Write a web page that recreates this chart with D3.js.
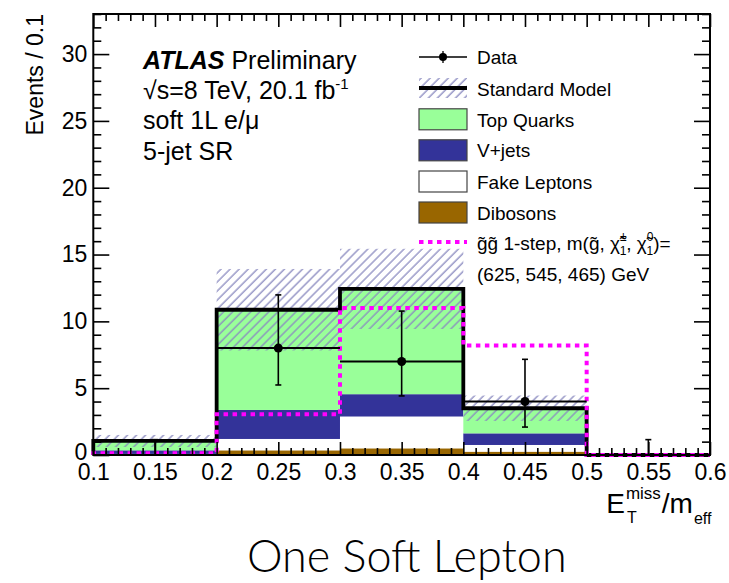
<!DOCTYPE html>
<html>
<head>
<meta charset="utf-8">
<script src="https://cdn.jsdelivr.net/npm/d3@7"></script>
<style>
  body { margin: 0; background: #fff; }
  svg { display: block; font-family: "Liberation Sans", Arial, Helvetica, sans-serif; }
</style>
</head>
<body>
<script>
// Bin edges of E_T^miss / m_eff
const binEdges = [0.1, 0.2, 0.3, 0.4, 0.5, 0.6];

// Expected background, stacked bottom to top
const dibosons    = [0.00, 0.35, 0.50, 0.25, 0];
const fakeLeptons = [0.08, 0.85, 2.38, 0.50, 0];
const vJets       = [0.27, 2.17, 1.67, 0.87, 0];
const topQuarks   = [0.70, 7.50, 7.88, 1.88, 0];

// Total background uncertainty (symmetric)
const smError = [0.45, 3.05, 3.00, 0.95, 0];

// Observed data with asymmetric Poisson errors
const dataCounts  = [0, 8, 7, 4, 0];
const dataErrUp   = [1.15, 3.98, 3.77, 3.16, 1.15];
const dataErrDown = [0, 2.76, 2.58, 1.91, 0];

// Signal benchmark
const signal = [0.13, 3.05, 11.0, 8.2, 0];

// Axis ticks
const xTicks = [0.1, 0.15, 0.2, 0.25, 0.3, 0.35, 0.4, 0.45, 0.5, 0.55, 0.6];
const xTickLabels = ["0.1", "0.15", "0.2", "0.25", "0.3", "0.35", "0.4", "0.45", "0.5", "0.55", "0.6"];
const yTicks = [0, 5, 10, 15, 20, 25, 30];
const yTickLabels = ["0", "5", "10", "15", "20", "25", "30"];

const colors = {
  top: "#99ff99",
  vjets: "#333399",
  fake: "#ffffff",
  dibosons: "#996600",
  hatch: "#8a8ac0",
  signal: "#ff00ff"
};

const W = 729, H = 583;
const plot = { left: 93.3, right: 710, top: 14, bottom: 455 };

const svg = d3.select("body").append("svg")
  .attr("width", W).attr("height", H);

svg.append("rect").attr("width", W).attr("height", H).attr("fill", "#fff");

const defs = svg.append("defs");
const pat = defs.append("pattern")
  .attr("id", "hatch")
  .attr("patternUnits", "userSpaceOnUse")
  .attr("width", 6.4).attr("height", 6.4)
  .attr("patternTransform", "rotate(45)");
pat.append("line")
  .attr("x1", 1).attr("y1", 0).attr("x2", 1).attr("y2", 6.4)
  .attr("stroke", colors.hatch).attr("stroke-width", 1.3);

const x = d3.scaleLinear().domain([0.1, 0.6]).range([plot.left, plot.right]);
const y = d3.scaleLinear().domain([0, 33]).range([plot.bottom, plot.top]);

// Build per-bin rows and stack them
const rows = binEdges.slice(0, -1).map((lo, i) => ({
  lo, hi: binEdges[i + 1],
  dibosons: dibosons[i], fake: fakeLeptons[i], vjets: vJets[i], top: topQuarks[i]
}));
const keys = ["dibosons", "fake", "vjets", "top"];
const stacked = d3.stack().keys(keys)(rows);
const totals = rows.map(r => r.dibosons + r.fake + r.vjets + r.top);

const gStack = svg.append("g");
stacked.forEach(layer => {
  gStack.selectAll(null).data(layer).enter().append("rect")
    .attr("x", d => x(d.data.lo))
    .attr("width", d => x(d.data.hi) - x(d.data.lo))
    .attr("y", d => y(d[1]))
    .attr("height", d => Math.max(0, y(d[0]) - y(d[1])))
    .attr("fill", colors[layer.key]);
});

// Uncertainty band
svg.append("g").selectAll("rect").data(rows).enter().append("rect")
  .attr("x", d => x(d.lo))
  .attr("width", d => x(d.hi) - x(d.lo))
  .attr("y", (d, i) => y(totals[i] + smError[i]))
  .attr("height", (d, i) => y(Math.max(0, totals[i] - smError[i])) - y(totals[i] + smError[i]))
  .attr("fill", "url(#hatch)");

// Histogram outline helper
const stepLine = d3.line().x(d => x(d[0])).y(d => y(d[1])).curve(d3.curveStepAfter);
function histPoints(vals) {
  const pts = [[binEdges[0], 0]];
  vals.forEach((v, i) => pts.push([binEdges[i], v]));
  pts.push([binEdges[binEdges.length - 1], vals[vals.length - 1]]);
  return pts;
}

// Total SM
svg.append("path")
  .attr("d", stepLine(histPoints(totals)))
  .attr("fill", "none").attr("stroke", "#000").attr("stroke-width", 3.8);

// Signal
svg.append("path")
  .attr("d", stepLine(histPoints(signal)))
  .attr("fill", "none").attr("stroke", colors.signal)
  .attr("stroke-width", 4).attr("stroke-dasharray", "4.5,4.5");

// Data points
const gData = svg.append("g").attr("stroke", "#000").attr("fill", "none");
rows.forEach((r, i) => {
  const cx = x((r.lo + r.hi) / 2);
  const v = dataCounts[i];
  gData.append("line")
    .attr("x1", x(r.lo)).attr("x2", x(r.hi))
    .attr("y1", y(v)).attr("y2", y(v)).attr("stroke-width", 2);
  const yTop = y(v + dataErrUp[i]), yBot = y(v - dataErrDown[i]);
  gData.append("line")
    .attr("x1", cx).attr("x2", cx).attr("y1", yTop).attr("y2", yBot)
    .attr("stroke-width", 1.6);
  gData.append("line")
    .attr("x1", cx - 3).attr("x2", cx + 3).attr("y1", yTop).attr("y2", yTop)
    .attr("stroke-width", 1.6);
  if (dataErrDown[i] > 0) {
    gData.append("line")
      .attr("x1", cx - 3).attr("x2", cx + 3).attr("y1", yBot).attr("y2", yBot)
      .attr("stroke-width", 1.6);
  }
  if (v > 0) {
    gData.append("circle").attr("cx", cx).attr("cy", y(v)).attr("r", 4.5)
      .attr("fill", "#000").attr("stroke", "none");
  }
});

// Axes with inward ticks on all four sides
const minorX = d3.range(11, 61).map(k => k / 100).filter(v => Math.round(v * 100) % 5 !== 0);
const minorY = d3.range(0, 34).filter(v => v % 5 !== 0);

function styleAxis(g) {
  g.select(".domain").remove();
  g.selectAll(".tick line").attr("stroke", "#000").attr("stroke-width", 1.6);
  g.selectAll(".tick text").attr("fill", "#000")
    .style("font-family", "'Liberation Sans', Arial, sans-serif");
}

const fmtX = d => xTickLabels[xTicks.indexOf(d)];
const fmtY = d => yTickLabels[yTicks.indexOf(d)];

svg.append("g").attr("transform", `translate(0,${plot.bottom})`)
  .call(d3.axisBottom(x).tickValues(xTicks).tickFormat(fmtX).tickSizeInner(-13).tickSizeOuter(0).tickPadding(9))
  .call(styleAxis)
  .call(g => g.selectAll(".tick text").attr("font-size", 23));
svg.append("g").attr("transform", `translate(0,${plot.bottom})`)
  .call(d3.axisBottom(x).tickValues(minorX).tickFormat("").tickSizeInner(-7).tickSizeOuter(0))
  .call(styleAxis);
svg.append("g").attr("transform", `translate(0,${plot.top})`)
  .call(d3.axisTop(x).tickValues(xTicks).tickFormat("").tickSizeInner(-13).tickSizeOuter(0))
  .call(styleAxis);
svg.append("g").attr("transform", `translate(0,${plot.top})`)
  .call(d3.axisTop(x).tickValues(minorX).tickFormat("").tickSizeInner(-7).tickSizeOuter(0))
  .call(styleAxis);

svg.append("g").attr("transform", `translate(${plot.left},0)`)
  .call(d3.axisLeft(y).tickValues(yTicks).tickFormat(fmtY).tickSizeInner(-16).tickSizeOuter(0).tickPadding(6))
  .call(styleAxis)
  .call(g => g.selectAll(".tick text").attr("font-size", 23))
  .call(g => g.selectAll(".tick").filter(d => d === 0).select("text").attr("dy", "0.2em"));
svg.append("g").attr("transform", `translate(${plot.left},0)`)
  .call(d3.axisLeft(y).tickValues(minorY).tickFormat("").tickSizeInner(-8).tickSizeOuter(0))
  .call(styleAxis);
svg.append("g").attr("transform", `translate(${plot.right},0)`)
  .call(d3.axisRight(y).tickValues(yTicks).tickFormat("").tickSizeInner(-16).tickSizeOuter(0))
  .call(styleAxis);
svg.append("g").attr("transform", `translate(${plot.right},0)`)
  .call(d3.axisRight(y).tickValues(minorY).tickFormat("").tickSizeInner(-8).tickSizeOuter(0))
  .call(styleAxis);

svg.append("rect")
  .attr("x", plot.left).attr("y", plot.top)
  .attr("width", plot.right - plot.left).attr("height", plot.bottom - plot.top)
  .attr("fill", "none").attr("stroke", "#000").attr("stroke-width", 2);

// Y axis title
svg.append("text")
  .attr("transform", `translate(43,${plot.top}) rotate(-90)`)
  .attr("text-anchor", "end").attr("font-size", 23)
  .text("Events / 0.1");

// X axis title: E_T^miss / m_eff, right aligned to the axis end
const xt = svg.append("g");
const tE = xt.append("text").attr("x", 0).attr("y", 513).attr("font-size", 28).text("E");
const wE = tE.node().getComputedTextLength();
const tMiss = xt.append("text").attr("x", wE + 1).attr("y", 499).attr("font-size", 17).text("miss");
const wMiss = tMiss.node().getComputedTextLength();
xt.append("text").attr("x", wE + 2).attr("y", 523).attr("font-size", 16).text("T");
const tM = xt.append("text").attr("x", wE + 1 + wMiss + 1).attr("y", 513).attr("font-size", 28).text("/m");
const wM = tM.node().getComputedTextLength();
xt.append("text").attr("x", wE + wMiss + 2 + wM + 1).attr("y", 524).attr("font-size", 16).text("eff");
const bb = xt.node().getBBox();
xt.attr("transform", `translate(${plot.right + 2 - (bb.x + bb.width)},0)`);

// ATLAS label block
const lab = svg.append("g").attr("font-size", 25);
const t1 = lab.append("text").attr("x", 143).attr("y", 69);
t1.append("tspan").attr("font-weight", "bold").attr("font-style", "italic").text("ATLAS");
t1.append("tspan").text(" Preliminary");
const t2 = lab.append("text").attr("x", 143).attr("y", 99);
t2.append("tspan").text("\u221As=8 TeV, 20.1 fb");
t2.append("tspan").attr("font-size", 15).attr("dy", -10).text("-1");
lab.append("text").attr("x", 143).attr("y", 129).text("soft 1L e/\u03bc");
lab.append("text").attr("x", 143).attr("y", 160).text("5-jet SR");

// Legend
const leg = svg.append("g").attr("font-size", 19);
const lx0 = 419, lx1 = 467, ltx = 477;
const boxH = 21;

// Data entry
leg.append("line").attr("x1", lx0).attr("x2", lx1).attr("y1", 57).attr("y2", 57)
  .attr("stroke", "#000").attr("stroke-width", 1.3);
leg.append("line").attr("x1", 443).attr("x2", 443).attr("y1", 51).attr("y2", 63)
  .attr("stroke", "#000").attr("stroke-width", 1.3);
leg.append("circle").attr("cx", 443).attr("cy", 57).attr("r", 4).attr("fill", "#000");
leg.append("text").attr("x", ltx).attr("y", 64).text("Data");

// Standard Model entry
leg.append("rect").attr("x", lx0).attr("y", 78).attr("width", lx1 - lx0).attr("height", 20)
  .attr("fill", "url(#hatch)");
leg.append("line").attr("x1", lx0).attr("x2", lx1).attr("y1", 88).attr("y2", 88)
  .attr("stroke", "#000").attr("stroke-width", 3.8);
leg.append("text").attr("x", ltx).attr("y", 95.5).text("Standard Model");

const boxEntries = [
  { label: "Top Quarks", fill: colors.top, cy: 119.3, base: 126.5 },
  { label: "V+jets", fill: colors.vjets, cy: 150.3, base: 157 },
  { label: "Fake Leptons", fill: colors.fake, cy: 181.5, base: 188.5 },
  { label: "Dibosons", fill: colors.dibosons, cy: 212.5, base: 219.5 }
];
boxEntries.forEach(e => {
  leg.append("rect").attr("x", lx0).attr("y", e.cy - boxH / 2)
    .attr("width", lx1 - lx0).attr("height", boxH)
    .attr("fill", e.fill).attr("stroke", "#444").attr("stroke-width", 1.2);
  leg.append("text").attr("x", ltx).attr("y", e.base).text(e.label);
});

// Signal entry
leg.append("line").attr("x1", lx0).attr("x2", lx1).attr("y1", 242).attr("y2", 242)
  .attr("stroke", colors.signal).attr("stroke-width", 4).attr("stroke-dasharray", "4.5,4.5");
const sig = leg.append("text").attr("x", ltx).attr("y", 250);
sig.append("tspan").text("g\u0303g\u0303 1-step, m(g\u0303, \u03c7\u0303");
sig.append("tspan").attr("font-size", 12).attr("dy", -9).text("\u00b1");
sig.append("tspan").attr("font-size", 12).attr("dx", -7).attr("dy", 14).text("1");
sig.append("tspan").attr("dy", -5).text(", \u03c7\u0303");
sig.append("tspan").attr("font-size", 12).attr("dy", -9).text("0");
sig.append("tspan").attr("font-size", 12).attr("dx", -7).attr("dy", 14).text("1");
sig.append("tspan").attr("dy", -5).text(")=");
leg.append("text").attr("x", ltx).attr("y", 281).text("(625, 545, 465) GeV");

// Title
svg.append("text").attr("x", 247).attr("y", 572)
  .attr("font-size", 45).attr("font-weight", 300)
  .style("font-family", "Lato, 'Liberation Sans', Arial, sans-serif")
  .text("One Soft Lepton");
</script>
</body>
</html>
